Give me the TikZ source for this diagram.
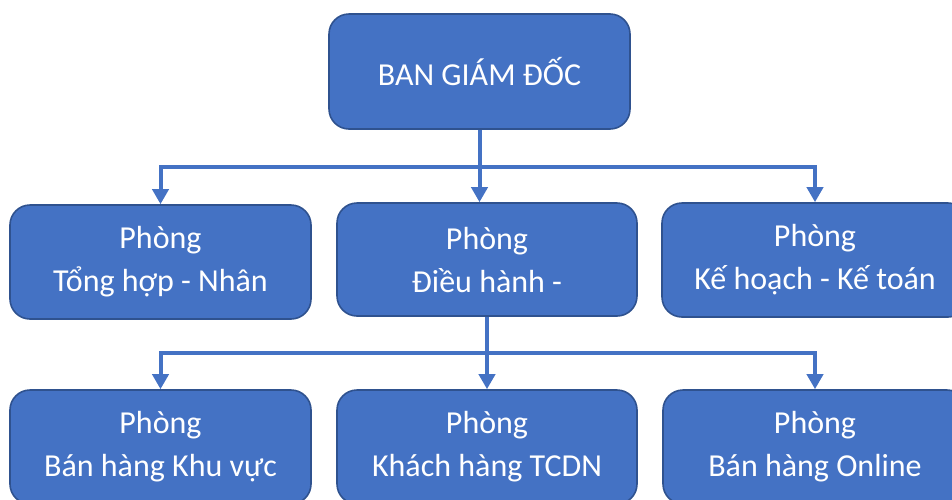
\documentclass[tikz,border=0pt]{standalone}
\usepackage{fontspec}
\setmainfont{Carlito}
\usetikzlibrary{positioning, arrows.meta}
\definecolor{boxblue}{HTML}{4472C4}
\definecolor{boxedge}{HTML}{2F528F}

\begin{document}
\begin{tikzpicture}[x=1pt, y=-1pt,
    box/.style={fill=boxblue, draw=boxedge, line width=1.6pt, rounded corners=20pt,
                text=white, align=center, inner sep=0pt,
                font=\fontsize{32}{43}\selectfont},
    link/.style={boxblue, line width=4pt, -{Triangle[length=15pt, width=16pt]}}]
    \clip (0,0) rectangle (952,499);
    \useasboundingbox (0,0) rectangle (952,499);
    \node[box, minimum width=301pt, minimum height=115pt] (bgd) at (479.5,71.5) {BAN GIÁM ĐỐC};
    \node[box, minimum width=301pt, minimum height=114pt] (ptt) at (160.5,262) {Phòng\\Tổng hợp - Nhân};
    \node[box, minimum width=300pt, minimum height=113pt] (pdh) at (487,259.5) {Phòng\\Điều hành -};
    \node[box, minimum width=306pt, minimum height=114pt] (pkt) at (815,260) {Phòng\\Kế hoạch - Kế toán};
    \node[box, minimum width=301pt, minimum height=114pt] (pbk) at (160.5,447) {Phòng\\Bán hàng Khu vực};
    \node[box, minimum width=300pt, minimum height=114pt] (pkh) at (487,447) {Phòng\\Khách hàng TCDN};
    \node[box, minimum width=304pt, minimum height=114pt] (pbo) at (815,447) {Phòng\\Bán hàng Online};
    \coordinate (h1) at (0,167);
    \coordinate (h2) at (0,353);
    % level 1
    \draw[link] (bgd.south) -- (bgd.south |- h1) -| (ptt.north);
    \draw[link] (bgd.south) -- (bgd.south |- pdh.north);
    \draw[link] (bgd.south) -- (bgd.south |- h1) -| (pkt.north);
    % level 2
    \draw[link] (pdh.south) -- (pdh.south |- h2) -| (pbk.north);
    \draw[link] (pdh.south) -- (pkh.north);
    \draw[link] (pdh.south) -- (pdh.south |- h2) -| (pbo.north);
\end{tikzpicture}
\end{document}
